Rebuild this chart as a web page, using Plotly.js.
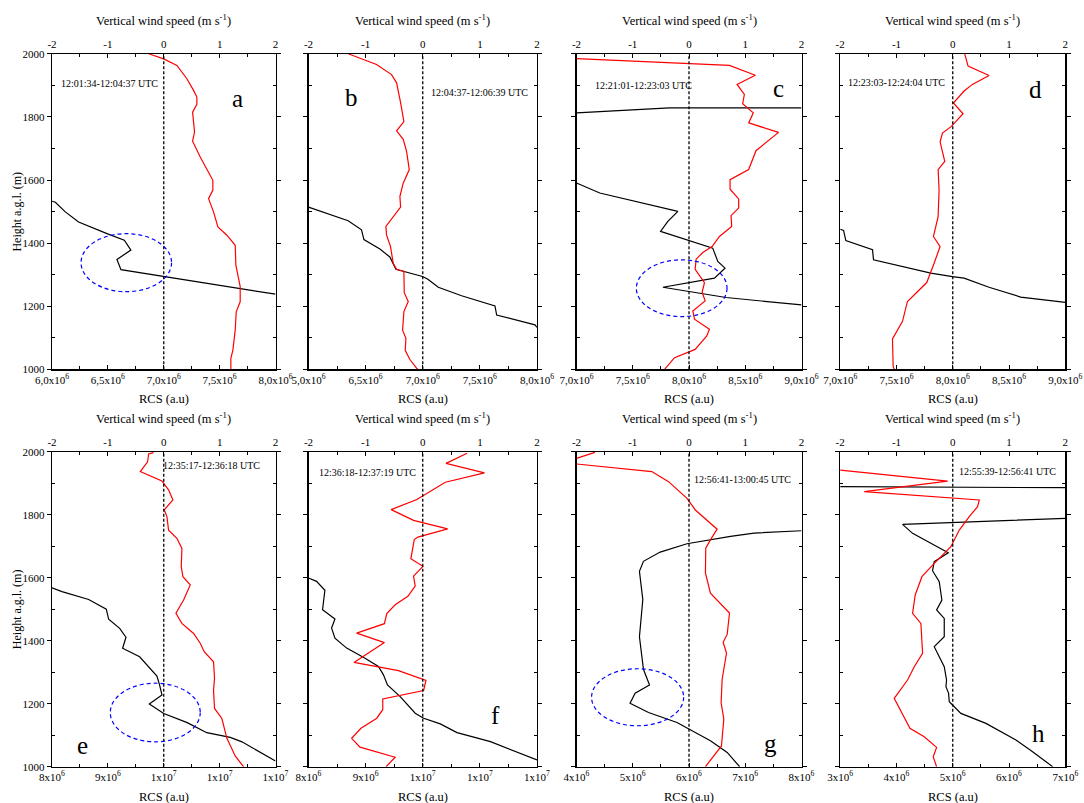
<!DOCTYPE html>
<html><head><meta charset="utf-8">
<script src="https://cdn.plot.ly/plotly-3.0.1.min.js"></script>
<style>html,body{margin:0;padding:0;background:#fff}</style>
</head><body><div id="chart" style="width:1084px;height:803px"></div>
<script>
// ---------- DATA (RCS in units of 10^6 a.u., height in m, wind in m/s) ----------
var aRcsH = [1532.7,1529.5,1499,1467,1430,1409,1378,1348,1316,1238];
var aRcs  = [6.0,6.03,6.119,6.238,6.492,6.647,6.706,6.581,6.617,8.0];
var aWindH = [2000,1984,1963,1921,1884,1863,1840,1815,1752,1723,1673,1626,1599,1568,1541,1499,1451,1425,1393,1330,1262,1214,1182,1124,1061,1035,1000];
var aWind  = [-0.271,0.0,0.235,0.414,0.533,0.593,0.593,0.516,0.551,0.516,0.653,0.802,0.879,0.879,0.802,0.891,0.969,1.130,1.279,1.291,1.368,1.368,1.297,1.279,1.237,1.201,1.201];

var bRcsH = [1514,1471,1442,1411,1381,1356,1317,1294,1286,1260,1233,1201,1172,1141,1133];
var bRcs  = [6.0,6.347,6.464,6.485,6.625,6.712,6.765,6.998,7.042,7.136,7.340,7.632,7.647,7.982,8.0];
var bWindH = [2000,1966,1934,1908,1845,1785,1756,1729,1691,1633,1590,1548,1514,1485,1453,1426,1389,1336,1317,1310,1243,1215,1183,1124,1098,1060,1031,1000];
var bWind  = [-1.305,-0.809,-0.546,-0.458,-0.388,-0.330,-0.458,-0.342,-0.283,-0.236,-0.342,-0.400,-0.388,-0.517,-0.645,-0.634,-0.564,-0.517,-0.458,-0.330,-0.324,-0.254,-0.330,-0.353,-0.295,-0.307,-0.225,-0.091];

var cRcsH = [1828.6,1828.6,1812.7,null,1590.5,1558.7,1500.5,1468.8,1437,1384,1342,1320.6,1289,1260,1227.5,1204];
var cRcs  = [9.0,7.827,7.0,null,7.0,7.207,7.901,7.812,7.747,8.211,8.256,8.320,8.226,7.768,8.329,9.0];
var cWindH = [1985,1963,1932,1903,1871,1842,1813,1781,1751,1693,1633,1601,1571,1540,1511,1487,1453,1421,1389,1370,1349,1317,1275,1244,1217,1185,1159,1127,1106,1063,1037,1000];
var cWind  = [-2.0,0.718,1.179,0.854,0.984,0.954,1.143,1.061,1.592,1.191,1.061,0.730,0.730,0.883,0.883,0.747,0.759,0.541,0.411,0.245,0.127,0.109,0.275,0.233,0.287,0.068,0.098,0.363,0.316,0.109,-0.257,-0.434];

var dRcsH = [1444,1440,1408,1379,1347,1326,1305,1294,1289,1260,1229,1212];
var dRcs  = [7.0,7.030,7.050,7.287,7.296,7.538,7.805,7.997,8.101,8.322,8.604,9.0];
var dWindH = [2000,1961,1931,1903,1882,1844,1810,1770,1749,1721,1659,1633,1569,1484,1421,1389,1336,1275,1215,1152,1096,1009,1000];
var dWind  = [0.213,0.272,0.645,0.349,0.201,0.012,0.183,-0.024,-0.183,-0.225,-0.142,-0.260,-0.243,-0.260,-0.343,-0.225,-0.331,-0.462,-0.805,-0.893,-1.071,-1.059,-1.041];

var eRcsH = [1568,1556,1531,1500,1468,1439,1411,1376,1349,1288,1259,1228,1199,1169,1140,1108,1093,1079,1018];
var eRcs  = [8.0,8.179,8.656,8.972,9.014,9.211,9.324,9.264,9.568,9.878,9.926,9.968,9.741,10.0,10.42,10.77,11.19,11.40,12.0];
var eWindH = [1997,1993,1968,1937,1907,1879,1847,1815,1794,1751,1725,1693,1635,1603,1577,1529,1487,1455,1423,1392,1365,1333,1281,1243,1185,1153,1090,1034,1000];
var eWind  = [-0.182,-0.271,-0.289,-0.420,-0.033,0.086,0.164,0.009,0.057,0.086,0.235,0.325,0.313,0.343,0.474,0.355,0.218,0.325,0.534,0.653,0.724,0.891,0.909,0.891,0.909,1.040,1.130,1.279,1.428];

var fRcsH = [1599,1588.5,1560,1498.4,1468.7,1440.1,1408.3,1376.5,1344.6,1318.1,1291.6,1259.8,1222.7,1169.7,1153.8,1135.8,1108.2,1079.5,1021.2];
var fRcs  = [8.0,8.141,8.287,8.246,8.463,8.404,8.463,8.668,8.990,9.224,9.312,9.382,9.605,9.868,10.015,10.307,10.600,11.186,12.0];
var fWindH = [1995,1963,1933,1903,1848,1816,1782,1755,1729,1721,1660,1636,1605,1573,1541,1514,1486,1454,1424,1394,1331,1305,1274,1242,1215,1181,1154,1122,1090,1062,1030,1000];
var fWind  = [0.776,0.407,1.080,0.395,-0.103,-0.553,-0.161,0.436,-0.085,-0.149,-0.208,0.003,-0.161,-0.132,-0.261,-0.483,-0.630,-0.671,-1.157,-0.671,-1.204,-0.425,0.056,0.015,-0.700,-0.700,-0.805,-1.081,-1.245,-1.098,-0.483,-0.641];

var gRcsH = [1749,1741.6,1731,1707.8,1681.4,1651.9,1620.3,1530.6,1412.4,1309.1,1259.5,1233.1,1201.5,1171.9,1140.3,1119.2,1082.3,1045.4,1000];
var gRcs  = [8.0,7.155,6.738,5.964,5.488,5.190,5.119,5.179,5.119,5.190,5.298,5.042,4.952,5.280,5.786,5.994,6.381,6.679,6.9];
var gWindH = [1998,1979,null,1961,1937,1905,1852,1815,1754,1720,1694,1615,1551,1488,1420,1395,1361,1277,1203,1151,1066,1000];
var gWind  = [-1.673,-2.0,null,-2.0,-0.661,-0.363,-0.036,0.113,0.5,0.381,0.298,0.292,0.381,0.720,0.679,0.607,0.667,0.589,0.571,0.619,0.577,0.292];

var hRcsH = [1888.9,1885.7,null,1788.4,1769.3,1740.7,1714.3,1679.4,1650.8,1622.2,1587.3,1529.1,1497.4,1470.9,1412.7,1381,1349.2,1317.5,1275.1,1254,1232.8,1206.3,1169.3,1137.6,1084.7,1047.6,1000];
var hRcs  = [3.0,7.0,null,7.0,4.108,4.286,4.553,4.920,4.671,4.641,4.760,4.807,4.713,4.849,4.849,4.671,4.760,4.849,4.890,4.879,4.926,4.938,5.145,5.590,6.123,6.419,6.775];
var hWindH = [1941.8,1906.9,1873,1846.6,1825.4,1793.7,1751.3,1698.4,1645.5,1603.2,1545,1486.8,1455,1359.8,1317.5,1275.1,1216.9,1121.7,1095.2,1061.4,1031.7,1000];
var hWind  = [-2.0,-0.092,-1.573,0.471,0.441,0.293,0.116,-0.033,-0.329,-0.548,-0.667,-0.714,-0.566,-0.536,-0.684,-0.803,-1.040,-0.761,-0.507,-0.287,-0.347,-0.287];

// tick labels
var heightTicks = [1000,1200,1400,1600,1800,2000];
var windTicks = [-2,-1,0,1,2];
var windTickText = ["-2","-1","0","1","2"];
var sup6 = "x10<sup>6</sup>", sup7 = "x10<sup>7</sup>";
var rcsTicksA = [6,6.5,7,7.5,8], rcsTextA = ["6,0"+sup6,"6,5"+sup6,"7,0"+sup6,"7,5"+sup6,"8,0"+sup6];
var rcsTicksB = [6,6.5,7,7.5,8], rcsTextB = ["5,0"+sup6,"6,5"+sup6,"7,0"+sup6,"7,5"+sup6,"8,0"+sup6];
var rcsTicksC = [7,7.5,8,8.5,9], rcsTextC = ["7,0"+sup6,"7,5"+sup6,"8,0"+sup6,"8,5"+sup6,"9,0"+sup6];
var rcsTicksE = [8,9,10,11,12], rcsTextE = ["8"+sup6,"9"+sup6,"1"+sup7,"1"+sup7,"1"+sup7];
var rcsTicksG = [4,5,6,7,8], rcsTextG = ["4"+sup6,"5"+sup6,"6"+sup6,"7"+sup6,"8"+sup6];
var rcsTicksH = [3,4,5,6,7], rcsTextH = ["3"+sup6,"4"+sup6,"5"+sup6,"6"+sup6,"7"+sup6];

var timeLabels = ["12:01:34-12:04:37 UTC","12:04:37-12:06:39 UTC","12:21:01-12:23:03 UTC","12:23:03-12:24:04 UTC",
                  "12:35:17-12:36:18 UTC","12:36:18-12:37:19 UTC","12:56:41-13:00:45 UTC","12:55:39-12:56:41 UTC"];
var panelLetters = ["a","b","c","d","e","f","g","h"];

// ---------- LAYOUT ----------
var W = 1084, H = 803;
var FONT = "Liberation Serif, Times New Roman, serif";
var cols = [[52,275.5],[308.5,537],[576.5,801.5],[840.2,1065.3]];
var rows = [[53.8,369.3],[451.7,766.7]];
function px(x){return x/W;}
function py(y){return 1-y/H;}

var panels = [
 {rcs:aRcs,rcsH:aRcsH,w:aWind,wH:aWindH,tv:rcsTicksA,tt:rcsTextA,ell:[6.26,7.07,1246,1430],time:[109,83.5],let:[237,98]},
 {rcs:bRcs,rcsH:bRcsH,w:bWind,wH:bWindH,tv:rcsTicksB,tt:rcsTextB,ell:null,time:[479,92],let:[351,97]},
 {rcs:cRcs,rcsH:cRcsH,w:cWind,wH:cWindH,tv:rcsTicksC,tt:rcsTextC,ell:[7.532,8.338,1167,1347],time:[644,86],let:[778,88]},
 {rcs:dRcs,rcsH:dRcsH,w:dWind,wH:dWindH,tv:rcsTicksC,tt:rcsTextC,ell:null,time:[896,83],let:[1035,89]},
 {rcs:eRcs,rcsH:eRcsH,w:eWind,wH:eWindH,tv:rcsTicksE,tt:rcsTextE,ell:[9.043,10.653,1079,1265],time:[211,465],let:[82,745]},
 {rcs:fRcs,rcsH:fRcsH,w:fWind,wH:fWindH,tv:rcsTicksE,tt:rcsTextE,ell:null,time:[367,472],let:[495,715]},
 {rcs:gRcs,rcsH:gRcsH,w:gWind,wH:gWindH,tv:rcsTicksG,tt:rcsTextG,ell:[4.268,5.905,1130,1311],time:[742,479],let:[770,743]},
 {rcs:hRcs,rcsH:hRcsH,w:hWind,wH:hWindH,tv:rcsTicksH,tt:rcsTextH,ell:null,time:[1007,471],let:[1038,733]}
];

var traces = [], shapes = [], annotations = [];
var layout = {width:W, height:H, margin:{l:0,r:0,t:0,b:0}, showlegend:false,
  paper_bgcolor:"#fff", plot_bgcolor:"#fff", font:{family:FONT,size:11,color:"#000"}};

function axName(n){return n===1?"":String(n);}
function mids(arr){var m=[];for(var i=0;i<arr.length-1;i++)m.push((arr[i]+arr[i+1])/2);return m;}
var TICKFONT = {size:11,family:FONT,color:"#000"};

panels.forEach(function(p,i){
  var n = i+1, col = cols[i%4], row = rows[Math.floor(i/4)];
  var xb = "x"+axName(n), xt = "x"+(n+8), yy = "y"+axName(n);
  var xdom = [px(col[0]), px(col[1])], ydom = [py(row[1]), py(row[0])];
  var lo = p.tv[0], hi = p.tv[p.tv.length-1];
  layout["xaxis"+axName(n)] = {domain:xdom, anchor:yy, range:[lo,hi], tickmode:"array", tickvals:p.tv, ticktext:p.tt,
    ticks:"inside", ticklen:4, tickwidth:1, tickcolor:"#000", showline:true, linecolor:"#000", linewidth:1.2,
    showgrid:false, zeroline:false, fixedrange:true, tickfont:TICKFONT,
    minor:{tickmode:"array", tickvals:mids(p.tv), ticks:"inside", ticklen:3, tickcolor:"#000"}};
  layout["xaxis"+(n+8)] = {overlaying:xb, anchor:yy, side:"top", range:[-2,2], tickmode:"array", tickvals:windTicks,
    ticktext:windTickText, ticks:"inside", ticklen:4, tickwidth:1, tickcolor:"#000", showline:true, linecolor:"#000",
    linewidth:1.2, showgrid:false, zeroline:false, fixedrange:true, tickfont:TICKFONT,
    minor:{tickmode:"array", tickvals:mids(windTicks), ticks:"inside", ticklen:3, tickcolor:"#000"}};
  layout["yaxis"+axName(n)] = {domain:ydom, anchor:xb, range:[1000,2000], tickmode:"array", tickvals:heightTicks,
    ticks:"outside", ticklen:4, tickwidth:1, tickcolor:"#000", showline:true, linecolor:"#000", linewidth:1.2,
    mirror:"ticks", showgrid:false, zeroline:false, fixedrange:true, showticklabels:(i%4===0),
    tickfont:TICKFONT,
    minor:{tickmode:"array", tickvals:mids(heightTicks), ticks:"inside", ticklen:3, tickcolor:"#000"}};

  traces.push({type:"scatter", mode:"lines", x:p.w, y:p.wH, xaxis:xt, yaxis:yy,
    line:{color:"#ff0000", width:1.2}, connectgaps:false, hoverinfo:"skip"});
  traces.push({type:"scatter", mode:"lines", x:p.rcs, y:p.rcsH, xaxis:xb, yaxis:yy,
    line:{color:"#000", width:1.2}, connectgaps:false, hoverinfo:"skip"});

  shapes.push({type:"line", xref:xt, yref:yy, x0:0, x1:0, y0:1000, y1:2000,
    line:{color:"#000", width:1.3, dash:"3px,2px"}});
  if(p.ell){
    shapes.push({type:"circle", xref:xb, yref:yy, x0:p.ell[0], x1:p.ell[1], y0:p.ell[2], y1:p.ell[3],
      line:{color:"#0000ff", width:1.2, dash:"4px,3px"}});
  }
  var cx = (col[0]+col[1])/2;
  annotations.push({xref:"paper", yref:"paper", x:px(cx), y:py(i<4?20:418), showarrow:false,
    text:"Vertical wind speed (m s<sup>-1</sup>)", font:{size:12.5,family:FONT,color:"#000"}, xanchor:"center", yanchor:"middle"});
  annotations.push({xref:"paper", yref:"paper", x:px(cx), y:py(i<4?399:797), showarrow:false,
    text:"RCS (a.u)", font:{size:12.5,family:FONT,color:"#000"}, xanchor:"center", yanchor:"middle"});
  annotations.push({xref:"paper", yref:"paper", x:px(p.time[0]), y:py(p.time[1]), showarrow:false,
    text:timeLabels[i], font:{size:10,family:FONT,color:"#000"}, xanchor:"center", yanchor:"middle"});
  annotations.push({xref:"paper", yref:"paper", x:px(p.let[0]), y:py(p.let[1]), showarrow:false,
    text:panelLetters[i], font:{size:25,family:FONT,color:"#000"}, xanchor:"center", yanchor:"middle"});
  if(i%4===0){
    annotations.push({xref:"paper", yref:"paper", x:px(17), y:py((row[0]+row[1])/2), showarrow:false, textangle:-90,
      text:"Height a.g.l. (m)", font:{size:12,family:FONT,color:"#000"}, xanchor:"center", yanchor:"middle"});
  }
});
layout.shapes = shapes;
layout.annotations = annotations;

Plotly.newPlot("chart", traces, layout, {staticPlot:true, displayModeBar:false});
</script></body></html>
